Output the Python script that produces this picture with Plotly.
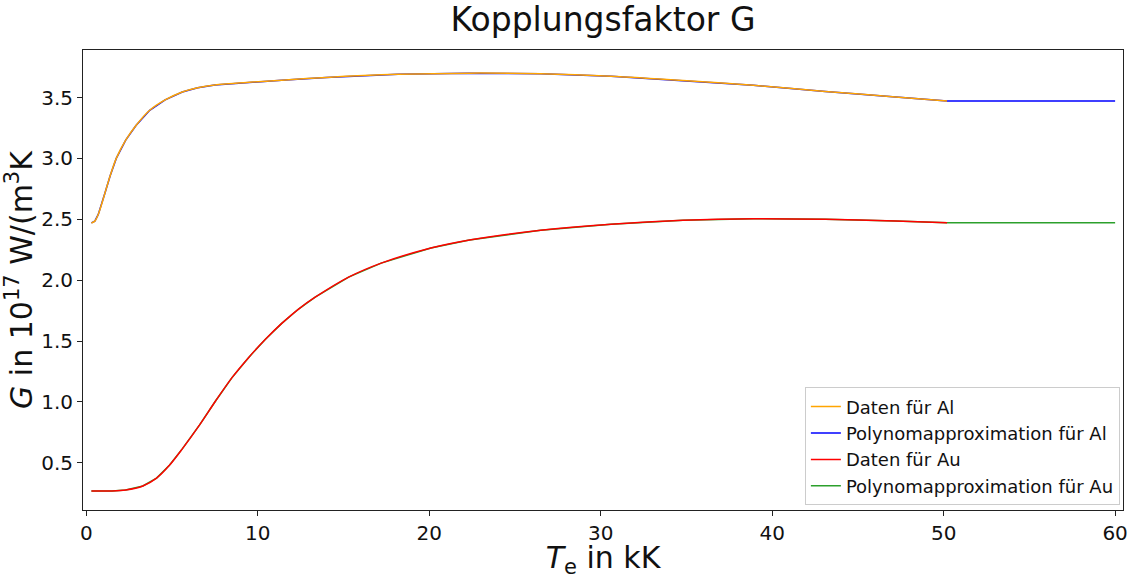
import plotly.graph_objects as go

# Elektronentemperatur in kK und Kopplungsfaktor G in 1e17 W/(m^3 K)
te_al = [0.3, 0.5, 0.7, 0.9, 1.1, 1.4, 1.75, 2.3, 2.9, 3.7, 4.6, 5.6, 6.5, 7.5, 9.5,
         11.4, 14.0, 18.2, 22.3, 26.5, 30.6, 34.8, 38.9, 43.1, 47.2, 50.2]
g_al = [2.47, 2.485, 2.54, 2.625, 2.72, 2.86, 3.0, 3.15, 3.27, 3.395, 3.48, 3.545,
        3.58, 3.603, 3.625, 3.642, 3.665, 3.69, 3.70, 3.695, 3.675, 3.64, 3.60, 3.55,
        3.505, 3.472]

te_au = [0.3, 1.5, 2.3, 3.3, 4.1, 4.85, 5.6, 6.6, 7.55, 8.5, 9.5, 10.45, 11.4, 12.4,
         13.35, 15.3, 17.2, 20.1, 22.35, 26.5, 30.6, 34.8, 38.9, 43.1, 47.2, 50.2]
g_au = [0.27, 0.27, 0.277, 0.31, 0.375, 0.48, 0.615, 0.81, 1.01, 1.20, 1.37, 1.515, 1.645,
        1.765, 1.86, 2.025, 2.14, 2.265, 2.33, 2.41, 2.46, 2.492, 2.505, 2.50, 2.485, 2.472]

te_max = 60.0

# Polynomapproximation: folgt den Daten und bleibt oberhalb von 50 kK konstant
poly_al_x = te_al + [te_max]
poly_al_y = g_al + [g_al[-1]]
poly_au_x = te_au + [te_max]
poly_au_y = g_au + [g_au[-1]]

fig = go.Figure()

fig.add_trace(go.Scatter(x=poly_al_x, y=poly_al_y, mode="lines", name="Polynomapproximation für Al",
                         line=dict(color="#0000ff", width=1.5), legendrank=2))
fig.add_trace(go.Scatter(x=te_al, y=g_al, mode="lines", name="Daten für Al",
                         line=dict(color="#ffa500", width=1.5, shape="spline", smoothing=0.8),
                         legendrank=1))
fig.add_trace(go.Scatter(x=poly_au_x, y=poly_au_y, mode="lines", name="Polynomapproximation für Au",
                         line=dict(color="#2ca02c", width=1.5), legendrank=4))
fig.add_trace(go.Scatter(x=te_au, y=g_au, mode="lines", name="Daten für Au",
                         line=dict(color="#ff0000", width=1.5, shape="spline", smoothing=0.8),
                         legendrank=3))

axis_common = dict(showline=True, linecolor="#222", linewidth=1, mirror=True,
                   ticks="outside", ticklen=5, tickcolor="#222", showgrid=False,
                   zeroline=False, tickfont=dict(size=20, color="#111"))

fig.update_xaxes(range=[-0.19, 60.46], tickvals=[0, 10, 20, 30, 40, 50, 60],
                 title=dict(text="<i>T</i><sub>e</sub> in kK", font=dict(size=30, color="#111"),
                            standoff=5),
                 **axis_common)
fig.update_yaxes(range=[0.113, 3.89], tickvals=[0.5, 1.0, 1.5, 2.0, 2.5, 3.0, 3.5],
                 tickformat=".1f",
                 title=dict(text="<i>G</i> in 10<sup>17</sup> W/(m<sup>3</sup>K",
                            font=dict(size=30, color="#111"), standoff=1),
                 **axis_common)

fig.update_layout(
    width=1136, height=579,
    margin=dict(l=83, r=8, t=50, b=61),
    paper_bgcolor="white", plot_bgcolor="white",
    font=dict(family="DejaVu Sans", color="#111"),
    title=dict(text="Kopplungsfaktor G", xref="paper", x=0.5, xanchor="center",
               y=0.966, yanchor="middle", font=dict(size=33, color="#111")),
    legend=dict(x=0.997, y=0.01, xanchor="right", yanchor="bottom",
                bgcolor="rgba(255,255,255,0.85)", bordercolor="#cccccc", borderwidth=1,
                font=dict(size=18, color="#111"), tracegroupgap=0),
    showlegend=True,
)

fig.write_html("out.html")
